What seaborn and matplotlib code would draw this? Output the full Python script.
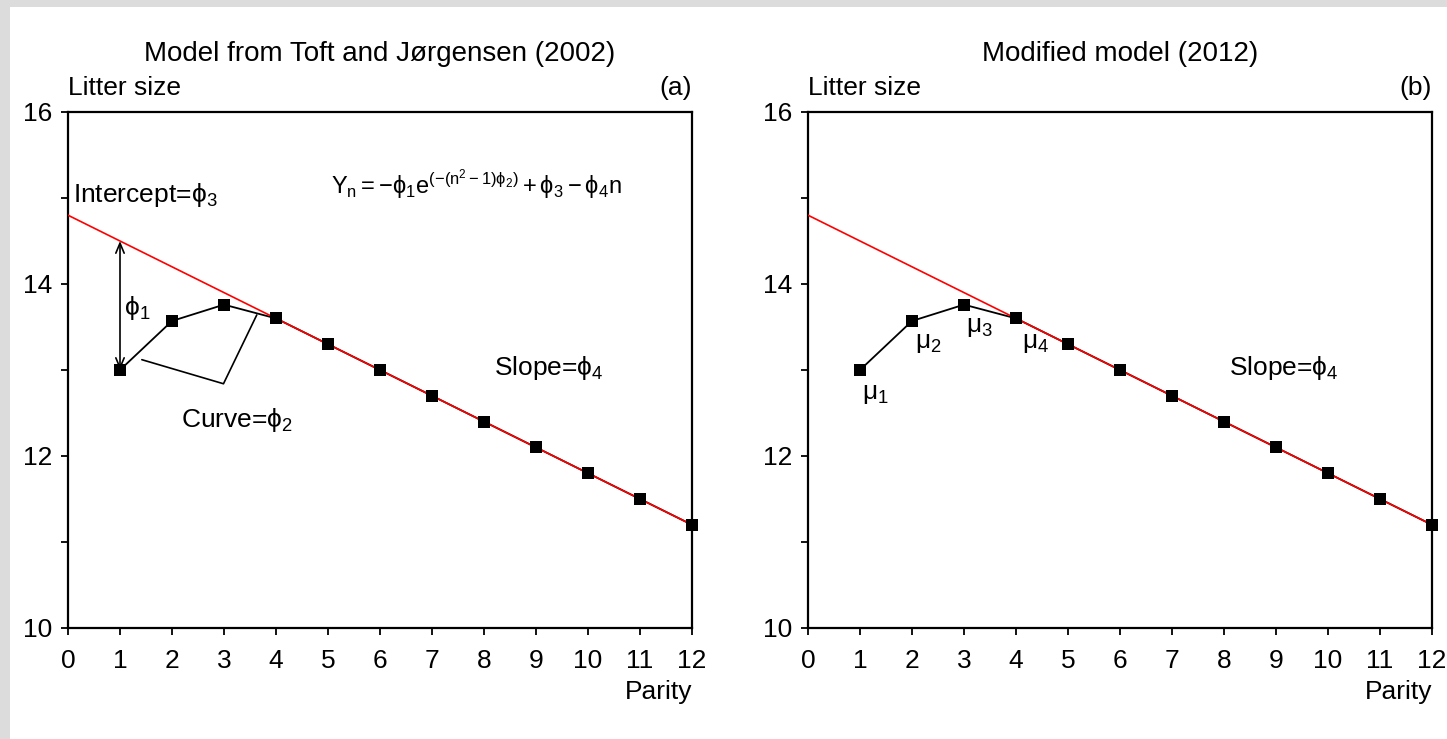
import matplotlib
matplotlib.use("Agg")
import matplotlib.pyplot as plt
from matplotlib.patches import Rectangle
from matplotlib.ticker import MultipleLocator
import seaborn as sns
import pandas as pd

# Litter size by parity
parity = [1, 2, 3, 4, 5, 6, 7, 8, 9, 10, 11, 12]
litter_size = [13.0, 13.57, 13.76, 13.6, 13.3, 13.0, 12.7, 12.4, 12.1, 11.8, 11.5, 11.2]

# Linear part of the model (intercept phi3, slope phi4)
trend_parity = [0, 12]
trend_litter = [14.8, 11.2]

x_ticks = list(range(0, 13))
y_ticks = [10, 12, 14, 16]

panel_titles = ["Model from Toft and J\u00f8rgensen (2002)", "Modified model (2012)"]
panel_tags = ["(a)", "(b)"]
mu_labels = [r"$\mathrm{\mu_1}$", r"$\mathrm{\mu_2}$", r"$\mathrm{\mu_3}$", r"$\mathrm{\mu_4}$"]

sns.set_theme(style="ticks")
plt.rcParams["font.family"] = ["Liberation Sans", "DejaVu Sans"]
plt.rcParams["text.color"] = "black"
plt.rcParams["mathtext.fontset"] = "custom"
plt.rcParams["mathtext.rm"] = "Liberation Sans"
plt.rcParams["mathtext.it"] = "Liberation Sans:italic"
plt.rcParams["mathtext.bf"] = "Liberation Sans:bold"

df = pd.DataFrame({"Parity": parity, "Litter": litter_size})
trend = pd.DataFrame({"Parity": trend_parity, "Litter": trend_litter})

fig = plt.figure(figsize=(14.47, 7.39), dpi=100)
fig.patch.set_facecolor("white")
# light grey frame along the top and left edge
fig.patches.append(Rectangle((0, 0), 10 / 1447, 1, transform=fig.transFigure,
                             facecolor="#dcdcdc", edgecolor="none", zorder=0))
fig.patches.append(Rectangle((0, 1 - 7 / 739), 1, 7 / 739, transform=fig.transFigure,
                             facecolor="#dcdcdc", edgecolor="none", zorder=0))

ax_w = 624 / 1447
ax_h = 516 / 739
bottom = 1 - 628 / 739
lefts = [68 / 1447, 808 / 1447]
axes = [fig.add_axes([l, bottom, ax_w, ax_h]) for l in lefts]

fs = 19
for i, ax in enumerate(axes):
    sns.lineplot(data=df, x="Parity", y="Litter", ax=ax, color="black", lw=1.3, zorder=2)
    sns.lineplot(data=trend, x="Parity", y="Litter", ax=ax, color="red", lw=1.2, zorder=3)
    sns.scatterplot(data=df, x="Parity", y="Litter", ax=ax, marker="s", s=85,
                    color="black", edgecolor="black", linewidth=0, zorder=4, clip_on=False)
    ax.set_xlim(0, 12)
    ax.set_ylim(10, 16)
    ax.set_xticks(x_ticks)
    ax.set_yticks(y_ticks)
    ax.yaxis.set_minor_locator(MultipleLocator(1))
    ax.tick_params(axis="both", which="both", direction="out", length=5, width=1.3,
                   labelsize=fs, colors="black", pad=6)
    ax.tick_params(axis="x", which="major", pad=10)
    for sp in ax.spines.values():
        sp.set_visible(True)
        sp.set_linewidth(1.6)
        sp.set_color("black")
    ax.set_xlabel("")
    ax.set_ylabel("")
    ax.set_facecolor("white")
    ax.set_title(panel_titles[i], fontsize=fs + 1, pad=37, color="black")
    ax.text(0.0, 1.024, "Litter size", transform=ax.transAxes, fontsize=fs,
            ha="left", va="bottom")
    ax.text(1.0, 1.024, panel_tags[i], transform=ax.transAxes, fontsize=fs,
            ha="right", va="bottom")
    ax.text(1.0, -0.1, "Parity", transform=ax.transAxes, fontsize=fs,
            ha="right", va="top")

# Panel (a): parameter annotations
ax = axes[0]
ax.annotate("", xy=(1, 13.0), xytext=(1, 14.5),
            arrowprops=dict(arrowstyle="<->,head_length=0.6,head_width=0.25",
                            color="black", lw=1.2, shrinkA=0, shrinkB=0))
ax.text(1.08, 13.72, r"$\mathrm{\phi_1}$", fontsize=fs, ha="left", va="center")
ax.text(0.1, 15.03, r"Intercept=$\mathrm{\phi_3}$", fontsize=fs, ha="left", va="center")
ax.plot([1.42, 2.99, 3.63], [13.12, 12.84, 13.64], color="black", lw=1.2)
ax.text(3.25, 12.42, r"Curve=$\mathrm{\phi_2}$", fontsize=fs, ha="center", va="center")
ax.text(9.25, 13.02, r"Slope=$\mathrm{\phi_4}$", fontsize=fs, ha="center", va="center")
ax.text(5.05, 15.15, r"$\mathrm{Y_n = -\phi_1 e^{(-(n^2-1)\phi_2)} + \phi_3 - \phi_4 n}$",
        fontsize=fs - 2, ha="left", va="center")

# Panel (b): first four parity means
ax = axes[1]
mu_pos = [(1.29, 12.72), (2.31, 13.31), (3.3, 13.5), (4.37, 13.31)]
for lab, (px, py) in zip(mu_labels, mu_pos):
    ax.text(px, py, lab, fontsize=fs, ha="center", va="center")
ax.text(9.15, 13.02, r"Slope=$\mathrm{\phi_4}$", fontsize=fs, ha="center", va="center")

fig.savefig("out.png", dpi=100, facecolor="white")
